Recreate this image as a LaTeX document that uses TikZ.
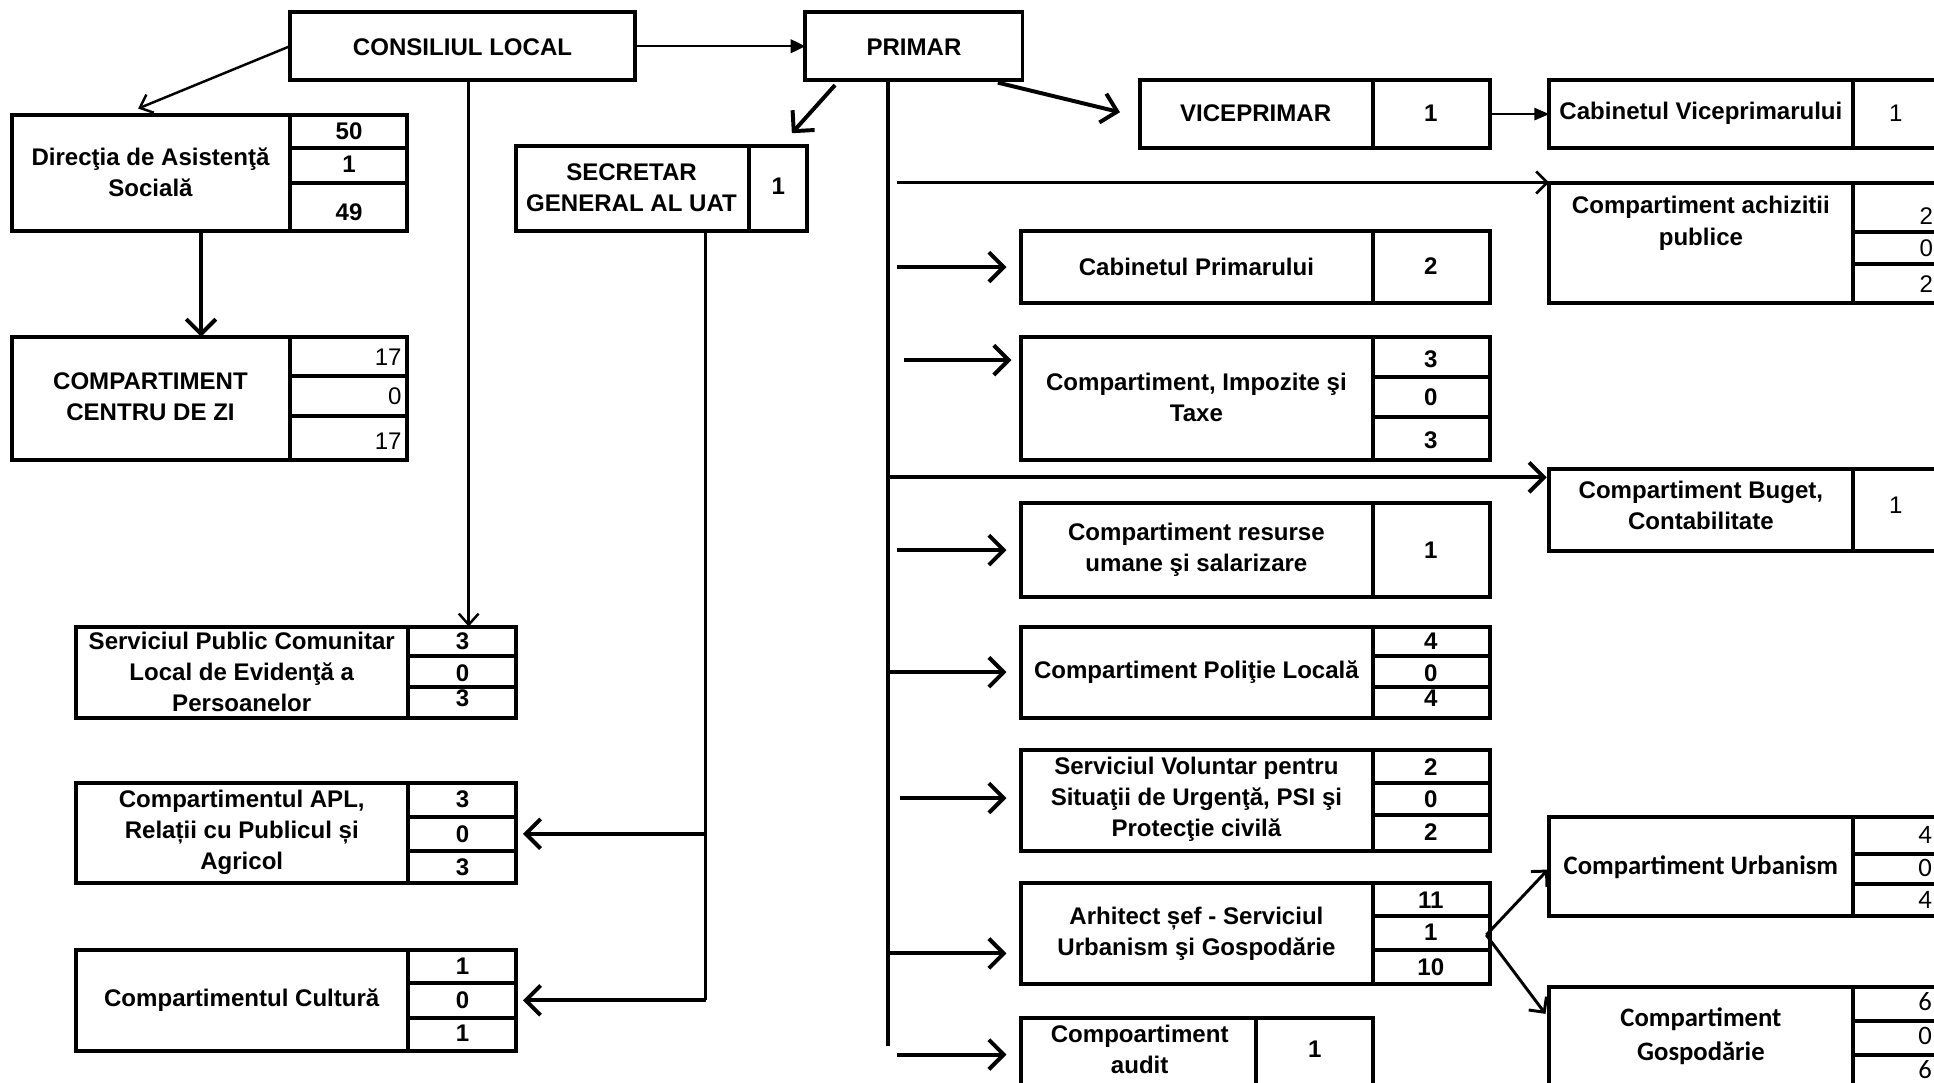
\documentclass[tikz,border=0pt]{standalone}
\usepackage{fontspec}
\setmainfont{Liberation Sans}[BoldFont={Liberation Sans Bold}]
\newfontfamily\carlfont{Carlito}
\usetikzlibrary{arrows.meta}
\newcommand\orgbox[5]{%
  \pgfmathsetmacro\obw{(#4-#2)*0.5}%
  \pgfmathsetmacro\obh{(#5-#3)*0.5}%
  \node[boxst, minimum width=\obw pt, minimum height=\obh pt] (#1) at ({(#2+#4)/2},{(#3+#5)/2}) {};%
}
\begin{document}
\begin{tikzpicture}[x=0.5pt,y=-0.5pt,
  boxst/.style={draw, line width=1.6pt, inner sep=0pt, outer sep=0pt},
  lbl/.style={align=center, inner sep=0pt, font=\fontsize{9.75}{12.6}\selectfont\bfseries},
  num/.style={inner sep=0pt, font=\fontsize{9.75}{12}\selectfont\bfseries},
  rnum/.style={inner sep=0pt, font=\fontsize{9.75}{12}\selectfont},
  clbl/.style={align=center, inner sep=0pt, font=\fontsize{10.8}{14}\selectfont\carlfont\bfseries},
  cnum/.style={inner sep=0pt, font=\fontsize{10.8}{13}\selectfont\carlfont},
  thickarr/.style={line width=1.6pt, -{Straight Barb[length=6pt,width=12pt]}},
  thinarr/.style={line width=1pt, -{Straight Barb[length=4.5pt,width=8pt]}},
  fillarr/.style={line width=1pt, -{Triangle[length=6pt,width=5.5pt]}},
  trunk/.style={line width=1.6pt},
]
\clip (0,0) rectangle (1568,878);

% ---------- top ----------
\orgbox{cl}{235}{10}{515}{65}
\node[lbl] (clt) at (375,38) {CONSILIUL LOCAL};
\orgbox{pr}{653}{10}{829}{65}
\node[lbl] (prt) at (741,38) {PRIMAR};

% ---------- Directia ----------
\orgbox{dir}{10}{93}{235}{187}
\node[lbl] (dirt) at (122,140) {Direcţia de Asistenţă\\Socială};
\orgbox{dira}{235}{93}{330}{120}
\orgbox{dirb}{235}{120}{330}{148}
\orgbox{dirc}{235}{148}{330}{187}
\node[num] (dirn1) at (283,106) {50};
\node[num] (dirn2) at (283,133) {1};
\node[num] (dirn3) at (283,172) {49};

% ---------- Centru de zi ----------
\orgbox{ccz}{10}{273}{235}{373}
\node[lbl] (cczt) at (122,322) {COMPARTIMENT\\CENTRU DE ZI};
\orgbox{ccza}{235}{273}{330}{305}
\orgbox{cczb}{235}{305}{330}{337}
\orgbox{cczc}{235}{337}{330}{373}
\node[rnum, anchor=east] (cczn1) at (326,290) {17};
\node[rnum, anchor=east] (cczn2) at (326,321) {0};
\node[rnum, anchor=east] (cczn3) at (326,358) {17};

% ---------- SPCLEP ----------
\orgbox{sp}{62}{508}{331}{582}
\node[lbl] (spt) at (196,545) {Serviciul Public Comunitar\\Local de Evidenţă a\\Persoanelor};
\orgbox{spa}{331}{508}{418}{532}
\orgbox{spb}{331}{532}{418}{557}
\orgbox{spc}{331}{557}{418}{582}
\node[num] (spn1) at (375,520) {3};
\node[num] (spn2) at (375,546) {0};
\node[num] (spn3) at (375,566) {3};

% ---------- APL ----------
\orgbox{apl}{62}{635}{331}{716}
\node[lbl] (aplt) at (196,675) {Compartimentul APL,\\Relații cu Publicul și\\Agricol};
\orgbox{apla}{331}{635}{418}{662}
\orgbox{aplb}{331}{662}{418}{690}
\orgbox{aplc}{331}{690}{418}{716}
\node[num] (apln1) at (375,648) {3};
\node[num] (apln2) at (375,676) {0};
\node[num] (apln3) at (375,703) {3};

% ---------- Cultura ----------
\orgbox{cul}{62}{770}{331}{852}
\node[lbl] (cult) at (196,811) {Compartimentul Cultură};
\orgbox{cula}{331}{770}{418}{797}
\orgbox{culb}{331}{797}{418}{825}
\orgbox{culc}{331}{825}{418}{852}
\node[num] (culn1) at (375,783) {1};
\node[num] (culn2) at (375,811) {0};
\node[num] (culn3) at (375,838) {1};

% ---------- Secretar ----------
\orgbox{sec}{418}{118}{607}{187}
\node[lbl] (sect) at (512,152) {SECRETAR\\GENERAL AL UAT};
\orgbox{seca}{607}{118}{654}{187}
\node[num] (secn) at (631,151) {1};

% ---------- Viceprimar ----------
\orgbox{vice}{924}{65}{1113}{120}
\node[lbl] (vicet) at (1018,92) {VICEPRIMAR};
\orgbox{vicea}{1113}{65}{1208}{120}
\node[num] (vicen) at (1160,92) {1};

\orgbox{cv}{1256}{65}{1502}{120}
\node[lbl] (cvt) at (1379,92) {Cabinetul Viceprimarului};
\orgbox{cva}{1502}{65}{1600}{120}
\node[rnum] (cvn) at (1537,92) {1};

% ---------- Achizitii ----------
\orgbox{ach}{1256}{148}{1502}{246}
\node[lbl] (acht) at (1379,181) {Compartiment achizitii\\publice};
\orgbox{acha}{1502}{148}{1600}{188}
\orgbox{achb}{1502}{188}{1600}{214}
\orgbox{achc}{1502}{214}{1600}{246}
\node[rnum, anchor=west] (achn1) at (1556,175) {2};
\node[rnum, anchor=west] (achn2) at (1556,201) {0};
\node[rnum, anchor=west] (achn3) at (1556,230) {2};

% ---------- Cabinetul Primarului ----------
\orgbox{cp}{828}{187}{1113}{246}
\node[lbl] (cpt) at (970,216) {Cabinetul Primarului};
\orgbox{cpa}{1113}{187}{1208}{246}
\node[num] (cpn) at (1160,216) {2};

% ---------- Impozite ----------
\orgbox{imp}{828}{273}{1113}{373}
\node[lbl] (impt) at (970,322) {Compartiment, Impozite şi\\Taxe};
\orgbox{impa}{1113}{273}{1208}{306}
\orgbox{impb}{1113}{306}{1208}{338}
\orgbox{impc}{1113}{338}{1208}{373}
\node[num] (impn1) at (1160,291) {3};
\node[num] (impn2) at (1160,322) {0};
\node[num] (impn3) at (1160,357) {3};

% ---------- Buget ----------
\orgbox{bug}{1256}{380}{1502}{447}
\node[lbl] (bugt) at (1379,410) {Compartiment Buget,\\Contabilitate};
\orgbox{buga}{1502}{380}{1600}{447}
\node[rnum] (bugn) at (1537,410) {1};

% ---------- Resurse ----------
\orgbox{res}{828}{408}{1113}{484}
\node[lbl] (rest) at (970,446) {Compartiment resurse\\umane şi salarizare};
\orgbox{resa}{1113}{408}{1208}{484}
\node[num] (resn) at (1160,446) {1};

% ---------- Politie ----------
\orgbox{pol}{828}{508}{1113}{582}
\node[lbl] (polt) at (970,545) {Compartiment Poliţie Locală};
\orgbox{pola}{1113}{508}{1208}{532}
\orgbox{polb}{1113}{532}{1208}{557}
\orgbox{polc}{1113}{557}{1208}{582}
\node[num] (poln1) at (1160,520) {4};
\node[num] (poln2) at (1160,546) {0};
\node[num] (poln3) at (1160,566) {4};

% ---------- Voluntar ----------
\orgbox{vol}{828}{608}{1113}{690}
\node[lbl] (volt) at (970,648) {Serviciul Voluntar pentru\\Situaţii de Urgenţă, PSI şi\\Protecţie civilă};
\orgbox{vola}{1113}{608}{1208}{635}
\orgbox{volb}{1113}{635}{1208}{661}
\orgbox{volc}{1113}{661}{1208}{690}
\node[num] (voln1) at (1160,622) {2};
\node[num] (voln2) at (1160,648) {0};
\node[num] (voln3) at (1160,675) {2};

% ---------- Arhitect ----------
\orgbox{arh}{828}{716}{1113}{798}
\node[lbl] (arht) at (970,757) {Arhitect șef - Serviciul\\Urbanism şi Gospodărie};
\orgbox{arha}{1113}{716}{1208}{743}
\orgbox{arhb}{1113}{743}{1208}{770}
\orgbox{arhc}{1113}{770}{1208}{798}
\node[num] (arhn1) at (1160,730) {11};
\node[num] (arhn2) at (1160,756) {1};
\node[num] (arhn3) at (1160,784) {10};

% ---------- Audit ----------
\orgbox{aud}{828}{825}{1018}{900}
\node[lbl] (audt) at (924,851) {Compoartiment\\audit};
\orgbox{auda}{1018}{825}{1113}{900}
\node[num] (audn) at (1066,851) {1};

% ---------- Urbanism ----------
\orgbox{urb}{1256}{662}{1502}{743}
\node[clbl] (urbt) at (1379,703) {Compartiment Urbanism};
\orgbox{urba}{1502}{662}{1600}{692}
\orgbox{urbb}{1502}{692}{1600}{717}
\orgbox{urbc}{1502}{717}{1600}{743}
\node[cnum, anchor=west] (urbn1) at (1555,677) {4};
\node[cnum, anchor=west] (urbn2) at (1555,704) {0};
\node[cnum, anchor=west] (urbn3) at (1555,730) {4};

% ---------- Gospodarie ----------
\orgbox{gos}{1256}{800}{1502}{920}
\node[clbl] (gost) at (1379,840) {Compartiment\\Gospodărie};
\orgbox{gosa}{1502}{800}{1600}{828}
\orgbox{gosb}{1502}{828}{1600}{855}
\orgbox{gosc}{1502}{855}{1600}{920}
\node[cnum, anchor=west] (gosn1) at (1555,812) {6};
\node[cnum, anchor=west] (gosn2) at (1555,840) {0};
\node[cnum, anchor=west] (gosn3) at (1555,867) {6};

% ---------- helper coordinates ----------
\coordinate (x163) at (163,0);
\coordinate (x380) at (380,0);
\coordinate (x572) at (572,0);
\coordinate (x720) at (720,0);
\coordinate (x727) at (727,0);
\coordinate (x730) at (730,0);
\coordinate (x733) at (733,0);
\coordinate (y292) at (0,292);
\coordinate (y647) at (0,647);
\coordinate (y773) at (0,773);
\coordinate (y855) at (0,855);
\coordinate (dirtip) at (112,88);
\coordinate (ps1) at (677,69);
\coordinate (ps2) at (642,108);
\coordinate (pv1) at (809,67);
\coordinate (pv2) at (908,91);
\coordinate (secend) at (572,811);
\coordinate (prend) at (720,848);
\coordinate (bug1) at (720,387);
\coordinate (bug2) at (1254,387);
\coordinate (ach1) at (727,148);
\coordinate (arhout) at (1205,758);
\coordinate (urbin) at (1255,705);
\coordinate (gosin) at (1253,822);

% ---------- connectors ----------
\draw[fillarr] (cl.east) -- (pr.west);
\draw[thinarr] (cl.west) -- (dirtip);
\draw[thickarr] (dir.south -| x163) -- (ccz.north -| x163);
\draw[thinarr] (cl.south -| x380) -- (spa.north -| x380);
\draw[thickarr] (ps1) -- (ps2);
\draw[trunk] (sec.south -| x572) -- (secend);
\draw[thickarr, shorten >=3pt] (aplb.east -| x572) -- (aplb.east);
\draw[thickarr, shorten >=3pt] (culb.east -| x572) -- (culb.east);
\draw[trunk] (pr.south -| x720) -- (prend);
\draw[thickarr] (pv1) -- (pv2);
\draw[line width=0.7pt, -{Triangle[length=6pt,width=5pt]}] (vicea.east) -- (cv.west);
\draw[line width=1.1pt, -{Straight Barb[length=4.5pt,width=9pt]}] (ach1) -- (ach.north west);
\draw[thickarr, shorten >=6pt] (cp.west -| x727) -- (cp.west);
\draw[thickarr, shorten >=4pt] (x733 |- y292) -- (imp.west |- y292);
\draw[thickarr] (bug1) -- (bug2);
\draw[thickarr, shorten >=6pt] (res.west -| x727) -- (res.west);
\draw[thickarr, shorten >=6pt] (pol.west -| x720) -- (pol.west);
\draw[thickarr, shorten >=6pt] (x730 |- y647) -- (vol.west |- y647);
\draw[thickarr, shorten >=6pt] (x720 |- y773) -- (arh.west |- y773);
\draw[thickarr, shorten >=6pt] (x727 |- y855) -- (aud.west |- y855);
\draw[line width=1.2pt, -{Straight Barb[length=4.5pt,width=9pt]}] (arhout) -- (urbin);
\draw[line width=1.2pt, -{Straight Barb[length=4.5pt,width=9pt]}] (arhout) -- (gosin);
\end{tikzpicture}
\end{document}
